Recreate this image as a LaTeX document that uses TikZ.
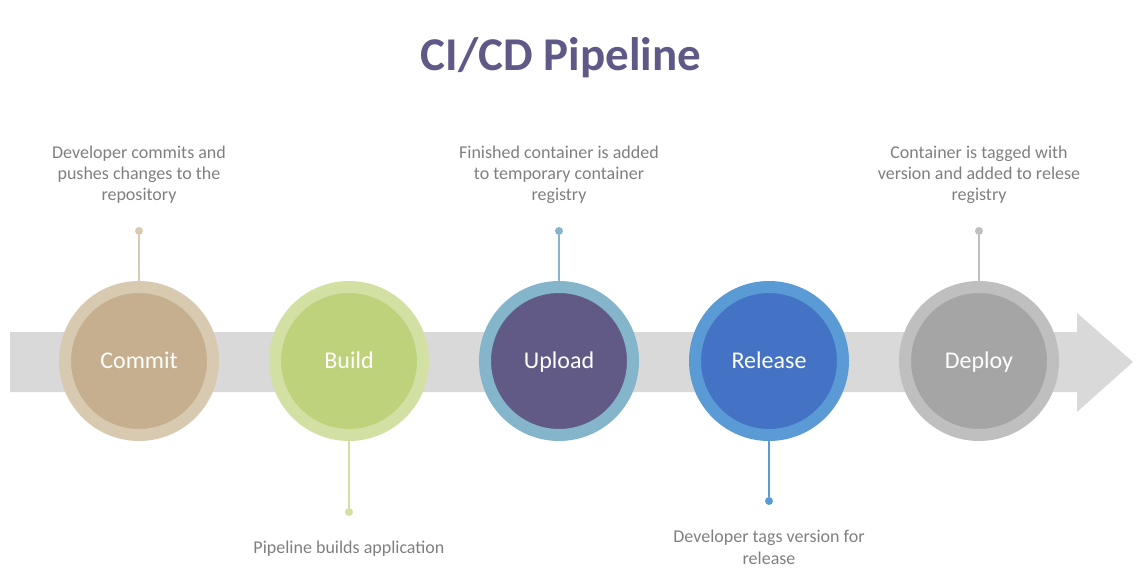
\documentclass[tikz,border=0pt]{standalone}
\usepackage{fontspec}
\setmainfont{Carlito}
\definecolor{titlepurple}{HTML}{5F5987}
\definecolor{bandgray}{HTML}{D9D9D9}
\definecolor{notegray}{HTML}{7F7F7F}
\definecolor{tanout}{HTML}{D8CAB1}
\definecolor{tanin}{HTML}{C5AF8E}
\definecolor{greenout}{HTML}{D3E0A4}
\definecolor{greenin}{HTML}{BDD27A}
\definecolor{tealout}{HTML}{84B5CB}
\definecolor{purplein}{HTML}{615A86}
\definecolor{blueout}{HTML}{5B9BD5}
\definecolor{bluein}{HTML}{4472C4}
\definecolor{greyout}{HTML}{BFBFBF}
\definecolor{greyin}{HTML}{A5A5A5}
\begin{document}
\begin{tikzpicture}[line cap=round, line join=round, x=1pt, y=-1pt,
    stage/.style={circle, minimum size=148pt, inner sep=0pt, line width=12pt,
        text=white, text height=15.5pt, text depth=0pt, font=\fontsize{24}{28}\selectfont},
    dot/.style={circle, minimum size=8pt, inner sep=0pt, fill=#1},
    note/.style={align=center, text=notegray, inner sep=0pt,
        font=\fontsize{18}{21.5}\selectfont}]

                \useasboundingbox (0,0) rectangle (1143,588);

                \node[anchor=base, text=titlepurple, font=\fontsize{47}{56}\selectfont\bfseries] (title) at (561,71) {CI/CD Pipeline};

                % the band with its arrow head
                \fill[bandgray] (10,332) -- (1077,332) -- (1077,313) -- (1133,362) -- (1077,412) -- (1077,392) -- (10,392) -- cycle;

                \node[stage, draw=tanout, fill=tanin] (commit) at (139,361) {Commit};
                \node[stage, draw=greenout, fill=greenin] (build) at (349,361) {Build};
                \node[stage, draw=tealout, fill=purplein] (upload) at (559,361) {Upload};
                \node[stage, draw=blueout, fill=bluein] (release) at (769,361) {Release};
                \node[stage, draw=greyout, fill=greyin] (deploy) at (979,361) {Deploy};

                \node[dot=tanout] (commit-dot) at (139,231) {};
                \node[dot=greenout] (build-dot) at (349,512) {};
                \node[dot=tealout] (upload-dot) at (559,231) {};
                \node[dot=blueout] (release-dot) at (769,501) {};
                \node[dot=greyout] (deploy-dot) at (979,231) {};

                \draw[tanout, line width=1.2pt] (commit-dot) -- (commit);
                \draw[greenout, line width=1.2pt] (build-dot) -- (build);
                \draw[tealout, line width=1.2pt] (upload-dot) -- (upload);
                \draw[blueout, line width=1.2pt] (release-dot) -- (release);
                \draw[greyout, line width=1.2pt] (deploy-dot) -- (deploy);

                % notes, placed at the baseline of their last line
                \node[note, anchor=base] (commit-note) at (139,201) {Developer commits and\\pushes changes to the\\repository};
                \node[note, anchor=base] (build-note) at (349,553) {Pipeline builds application};
                \node[note, anchor=base] (upload-note) at (559,201) {Finished container is added\\to temporary container\\registry};
                \node[note, anchor=base] (release-note) at (769,564) {Developer tags version for\\release};
                \node[note, anchor=base] (deploy-note) at (979,201) {Container is tagged with\\version and added to relese\\registry};

            \end{tikzpicture}
\end{document}
